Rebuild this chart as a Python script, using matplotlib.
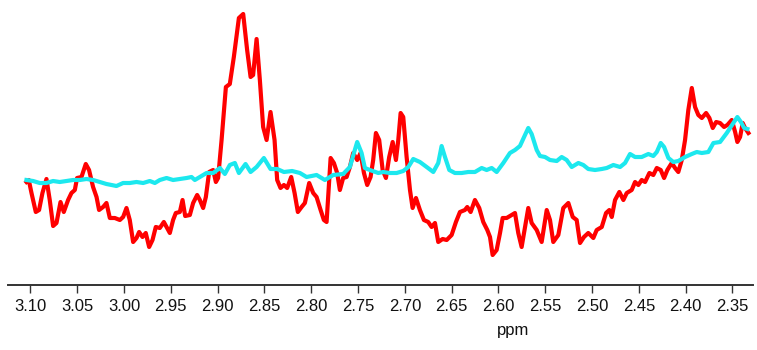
import matplotlib
matplotlib.use("Agg")
import matplotlib.pyplot as plt

# Red spectrum (ppm, intensity)
red_ppm = [3.1043, 3.1018, 3.0989, 3.0943, 3.0908, 3.0872, 3.0829, 3.0794, 3.0758, 3.0722,
           3.0679, 3.0644, 3.0598, 3.0562, 3.0526, 3.0502, 3.0455, 3.0409, 3.0374, 3.0331,
           3.0294, 3.0267, 3.0224, 3.0188, 3.0152, 3.0099, 3.0045, 3.0010, 2.9974, 2.9939,
           2.9903, 2.9867, 2.9839, 2.9803, 2.9768, 2.9732, 2.9696, 2.9661, 2.9618, 2.9575,
           2.9546, 2.9511, 2.9476, 2.9447, 2.9404, 2.9375, 2.9347, 2.9297, 2.9262, 2.9219,
           2.9190, 2.9155, 2.9126, 2.9091, 2.9048, 2.9019, 2.8995, 2.8958, 2.8912, 2.8870,
           2.8827, 2.8773, 2.8727, 2.8685, 2.8648, 2.8621, 2.8584, 2.8549, 2.8514, 2.8477,
           2.8435, 2.8392, 2.8364, 2.8328, 2.8292, 2.8257, 2.8214, 2.8178, 2.8143, 2.8103,
           2.8068, 2.8022, 2.7979, 2.7943, 2.7900, 2.7865, 2.7836, 2.7793, 2.7758, 2.7723,
           2.7694, 2.7659, 2.7622, 2.7587, 2.7552, 2.7509, 2.7473, 2.7437, 2.7402, 2.7366,
           2.7338, 2.7309, 2.7274, 2.7237, 2.7202, 2.7167, 2.7130, 2.7095, 2.7070, 2.7045,
           2.7017, 2.6981, 2.6945, 2.6917, 2.6881, 2.6839, 2.6796, 2.6750, 2.6714, 2.6678,
           2.6643, 2.6596, 2.6553, 2.6500, 2.6454, 2.6411, 2.6358, 2.6333, 2.6297, 2.6251,
           2.6205, 2.6162, 2.6119, 2.6090, 2.6062, 2.6019, 2.5983, 2.5955, 2.5912, 2.5823,
           2.5788, 2.5752, 2.5716, 2.5681, 2.5645, 2.5591, 2.5538, 2.5484, 2.5449, 2.5414,
           2.5360, 2.5307, 2.5253, 2.5206, 2.5164, 2.5128, 2.5086, 2.5040, 2.4986, 2.4950,
           2.4896, 2.4850, 2.4815, 2.4789, 2.4754, 2.4708, 2.4665, 2.4629, 2.4576, 2.4540,
           2.4505, 2.4469, 2.4433, 2.4387, 2.4345, 2.4308, 2.4266, 2.4230, 2.4195, 2.4148,
           2.4113, 2.4078, 2.4041, 2.4006, 2.3971, 2.3934, 2.3899, 2.3864, 2.3827, 2.3781,
           2.3746, 2.3710, 2.3674, 2.3632, 2.3589, 2.3554, 2.3507, 2.3471, 2.3447, 2.3418,
           2.3390, 2.3365, 2.3329]
red_int = [-1, 1, -12, -31, -29, -12, 2, -19, -45, -42,
           -21, -31, -19, -12, -9, 3, 4, 17, 11, -6,
           -16, -29, -26, -22, -37, -37, -39, -36, -27, -39,
           -61, -57, -51, -56, -52, -66, -59, -46, -47, -41,
           -46, -52, -39, -32, -31, -19, -35, -34, -22, -14,
           -19, -27, -16, 9, 11, -1, 3, 41, 94, 97,
           124, 163, 167, 131, 104, 106, 142, 101, 54, 41,
           69, 41, 1, -7, -4, -7, 4, -12, -31, -26,
           -22, -2, -12, -16, -29, -39, -41, 23, 18, 8,
           -9, 3, 4, 14, 28, 21, 28, 8, -4, 4,
           21, 48, 41, 11, 3, 24, 39, 21, 41, 68,
           64, 24, -9, -27, -17, -29, -39, -41, -46, -42,
           -61, -58, -59, -54, -41, -31, -29, -26, -31, -19,
           -27, -41, -49, -56, -74, -69, -52, -37, -37, -32,
           -52, -66, -46, -27, -42, -49, -61, -29, -39, -61,
           -54, -27, -22, -36, -39, -62, -56, -52, -57, -49,
           -46, -32, -29, -36, -19, -11, -19, -12, -9, -1,
           -4, 1, -1, 8, 6, 13, 11, 3, 11, 18,
           13, 9, 21, 41, 71, 93, 74, 66, 63, 68,
           63, 53, 59, 58, 54, 56, 61, 49, 39, 44,
           58, 53, 48]

# Cyan spectrum (ppm, intensity)
cyan_ppm = [3.1043, 3.0972, 3.0901, 3.0829, 3.0758, 3.0687, 3.0615, 3.0545, 3.0473, 3.0401,
            3.0331, 3.0259, 3.0188, 3.0134, 3.0081, 3.0010, 2.9939, 2.9867, 2.9796, 2.9725,
            2.9671, 2.9618, 2.9546, 2.9476, 2.9404, 2.9332, 2.9279, 2.9244, 2.9190, 2.9119,
            2.9048, 2.8976, 2.8923, 2.8870, 2.8816, 2.8773, 2.8702, 2.8648, 2.8584, 2.8506,
            2.8435, 2.8364, 2.8292, 2.8204, 2.8121, 2.8050, 2.7943, 2.7854, 2.7765, 2.7659,
            2.7587, 2.7544, 2.7509, 2.7462, 2.7427, 2.7373, 2.7284, 2.7231, 2.7159, 2.7088,
            2.7017, 2.6963, 2.6910, 2.6839, 2.6767, 2.6696, 2.6643, 2.6607, 2.6571, 2.6525,
            2.6465, 2.6393, 2.6322, 2.6251, 2.6179, 2.6126, 2.6072, 2.6019, 2.5948, 2.5877,
            2.5823, 2.5770, 2.5716, 2.5681, 2.5645, 2.5591, 2.5556, 2.5502, 2.5449, 2.5377,
            2.5324, 2.5271, 2.5217, 2.5146, 2.5093, 2.5040, 2.4968, 2.4896, 2.4843, 2.4772,
            2.4700, 2.4647, 2.4594, 2.4540, 2.4469, 2.4398, 2.4345, 2.4308, 2.4266, 2.4230,
            2.4184, 2.4131, 2.4078, 2.4006, 2.3934, 2.3881, 2.3827, 2.3757, 2.3703, 2.3632,
            2.3560, 2.3490, 2.3447, 2.3409, 2.3374, 2.3340]
cyan_int = [1, 0, -2, -2, 0, -1, 0, 1, 1, 2,
            1, -1, -3, -4, -5, -2, -2, -1, -2, 0,
            -2, 1, 3, 1, 2, 3, 4, 1, 4, 8,
            8, 13, 7, 16, 18, 8, 17, 9, 14, 23,
            12, 12, 9, 10, 8, 4, 6, 1, 6, 7,
            14, 28, 39, 28, 13, 11, 8, 9, 8, 8,
            10, 14, 22, 19, 14, 9, 18, 35, 24, 11,
            8, 8, 9, 9, 13, 11, 13, 9, 18, 28,
            31, 35, 46, 53, 47, 31, 25, 24, 21, 20,
            24, 21, 14, 18, 16, 12, 11, 12, 13, 16,
            14, 18, 27, 24, 24, 27, 25, 29, 38, 34,
            23, 19, 20, 24, 27, 29, 28, 29, 38, 39,
            48, 58, 64, 59, 53, 52]

tick_vals = [3.10, 3.05, 3.00, 2.95, 2.90, 2.85, 2.80, 2.75, 2.70, 2.65,
             2.60, 2.55, 2.50, 2.45, 2.40, 2.35]
tick_labels = ["%.2f" % v for v in tick_vals]

W, H = 757, 350
fig = plt.figure(figsize=(W / 100, H / 100), dpi=100)
ax = fig.add_axes([8 / W, 65 / H, 745 / W, 285 / H])

ax.plot(red_ppm, red_int, color="#FF0000", lw=3.0, solid_joinstyle="round", zorder=2)
ax.plot(cyan_ppm, cyan_int, color="#1CE8EE", lw=3.0, solid_joinstyle="round", zorder=3)

ax.set_xlim(3.124, 2.328)
ax.set_ylim(-104, 181)

for s in ("top", "left", "right"):
    ax.spines[s].set_visible(False)
ax.spines["bottom"].set_color("#333333")
ax.spines["bottom"].set_linewidth(1.4)
ax.set_yticks([])
ax.set_xticks(tick_vals)
ax.set_xticklabels(tick_labels)
ax.tick_params(axis="x", direction="out", length=6, width=1.0, color="#333333",
               pad=4, labelsize=12, labelcolor="#111111")
for lbl in ax.get_xticklabels():
    lbl.set_family(["Liberation Sans Narrow", "Liberation Sans", "DejaVu Sans"])

fig.text(513 / W, 1 - 330 / H, "ppm", ha="center", va="center", fontsize=12,
         color="#111111", family=["Liberation Sans Narrow", "Liberation Sans", "DejaVu Sans"])

fig.savefig("out.png", dpi=100)
